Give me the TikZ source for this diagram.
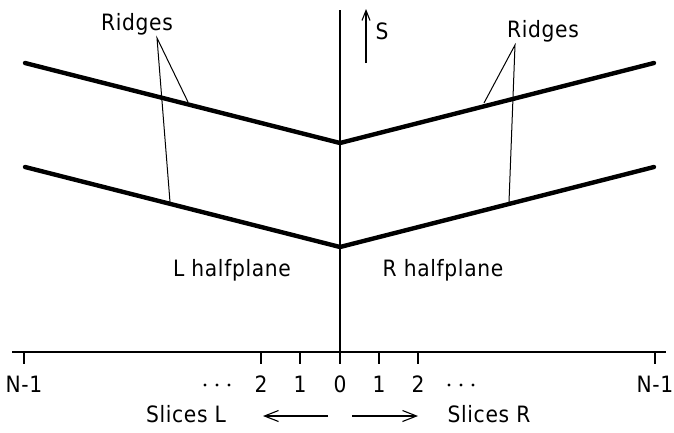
\documentclass[tikz,border=0pt]{standalone}
\usepackage{fontspec}
\newfontfamily\hfont[LetterSpace=3]{DejaVu Sans Condensed}
\usetikzlibrary{arrows.meta}
\begin{document}
\begin{tikzpicture}[x=1pt,y=-1pt,
  lbl/.style={font=\hfont\fontsize{22.5}{22.5}\selectfont, inner sep=0pt, anchor=center},
  ridge/.style={line width=4.4pt, line cap=round, line join=miter},
  leader/.style={line width=1pt},
  axis/.style={line width=1.4pt},
  tick/.style={line width=1.3pt},
  barb/.style={line width=1.1pt, -{Straight Barb[length=14pt,width=11pt,line width=1.1pt]}}]
\useasboundingbox (0,0) rectangle (674,432);
% axes
\coordinate (vtop) at (340,10);
\coordinate (vbot) at (340,352);
\coordinate (hl) at (12,352);
\coordinate (hr) at (666,352);
\draw[axis] (vtop) -- (vbot);
\draw[axis] (hl) -- (hr);
% ridges
\coordinate (u1) at (25,63); \coordinate (u2) at (340,143); \coordinate (u3) at (654,63);
\coordinate (l1) at (25,167); \coordinate (l2) at (340,247); \coordinate (l3) at (654,167);
\draw[ridge] (u1) -- (u2) -- (u3);
\draw[ridge] (l1) -- (l2) -- (l3);
% Ridges labels and leaders
\node[lbl] (rl) at (137,24) {Ridges};
\node[lbl] (rr) at (543,31) {Ridges};
\coordinate (rlo) at (157,38); \coordinate (rlu) at (188,102); \coordinate (rll) at (170,202);
\coordinate (rro) at (515,45); \coordinate (rru) at (484,103); \coordinate (rrl) at (509,202);
\draw[leader] (rlu) -- (rlo) -- (rll);
\draw[leader] (rru) -- (rro) -- (rrl);
% S arrow
\coordinate (sb) at (366,63); \coordinate (st) at (366,9);
\draw[line width=1.1pt, -{Straight Barb[length=10pt,width=8pt,line width=1.1pt]}] (sb) -- (st);
\node[lbl] (s) at (382,31) {S};
% halfplane labels
\node[lbl] (lh) at (232,270) {L halfplane};
\node[lbl] (rh) at (443,270) {R halfplane};
% ticks and labels
\foreach \n/\x/\t in {a/24/N-1, b/261/2, c/300/1, d/340/0, e/379/1, f/418/2, g/655/N-1}{
  \coordinate (t\n) at (\x,352);
  \coordinate (b\n) at (\x,364);
  \draw[tick] (t\n) -- (b\n);
  \node[lbl] (n\n) at (\x,384) {\t};
}
% dots
\foreach \x in {205,217,229,449,461,473}{
  \fill (\x,385) circle (1.7);
}
% slices
\node[lbl] (sl) at (186,414) {Slices L};
\node[lbl] (sr) at (489,414) {Slices R};
\coordinate (al0) at (328,416); \coordinate (al1) at (263,416);
\coordinate (ar0) at (352,416); \coordinate (ar1) at (418,416);
\draw[barb] (al0) -- (al1);
\draw[barb] (ar0) -- (ar1);
\end{tikzpicture}
\end{document}
